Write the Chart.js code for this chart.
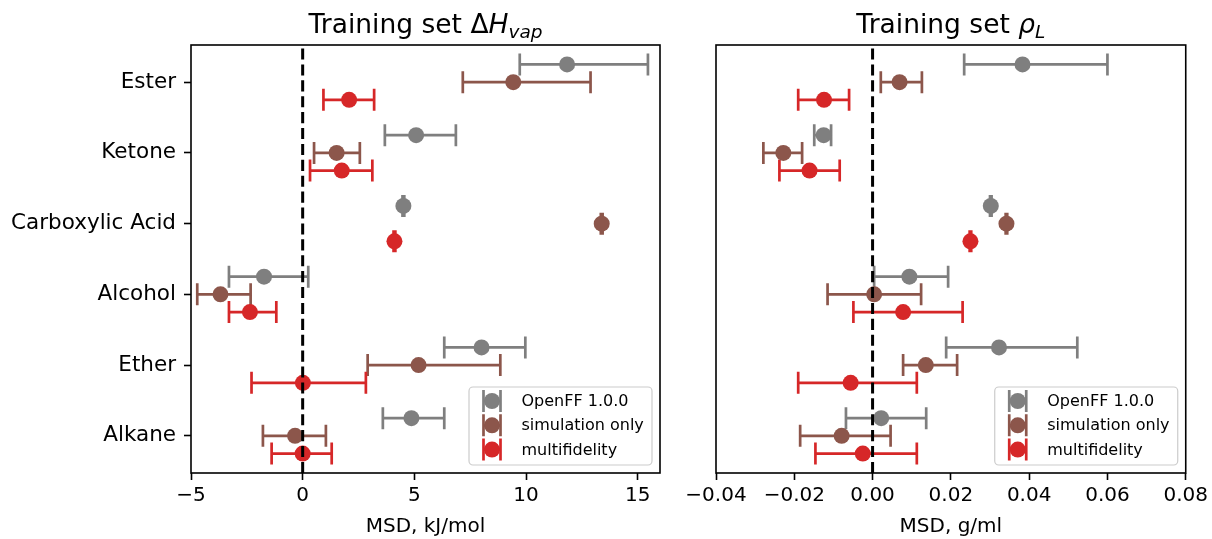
<!DOCTYPE html>
<html>
<head>
<meta charset="utf-8">
<script src="https://cdn.jsdelivr.net/npm/chart.js@4/dist/chart.umd.min.js"></script>
<style>
  html, body { margin: 0; padding: 0; background: #fff; }
  #wrap { position: relative; width: 1212px; height: 539px; overflow: hidden; }
  canvas { position: absolute; top: 0; }
  #c1 { left: 0; }
  #c2 { left: 680px; }
</style>
</head>
<body>
<div id="wrap">
  <canvas id="c1" width="680" height="539"></canvas>
  <canvas id="c2" width="532" height="539"></canvas>
</div>
<script>
// ---------- data (top to bottom order) ----------
const categories = ['Ester', 'Ketone', 'Carboxylic Acid', 'Alcohol', 'Ether', 'Alkane'];
const seriesNames = ['OpenFF 1.0.0', 'simulation only', 'multifidelity'];
const seriesColors = ['#7f7f7f', '#8c564b', '#d62728'];

// Heat of vaporization MSD (kJ/mol)
const hvapOpenFF   = [11.84, 5.08, 4.51, -1.73, 8.01, 4.87];
const hvapOpenFFLo = [9.72, 3.68, 4.47, -3.30, 6.34, 3.59];
const hvapOpenFFHi = [15.46, 6.86, 4.55, 0.25, 9.97, 6.34];
const hvapSim      = [9.43, 1.52, 13.39, -3.68, 5.19, -0.34];
const hvapSimLo    = [7.17, 0.51, 13.35, -4.72, 2.91, -1.78];
const hvapSimHi    = [12.89, 2.56, 13.43, -2.33, 8.85, 1.04];
const hvapMulti    = [2.08, 1.75, 4.11, -2.36, 0.01, 0.0];
const hvapMultiLo  = [0.93, 0.33, 4.07, -3.30, -2.29, -1.39];
const hvapMultiHi  = [3.20, 3.12, 4.15, -1.18, 2.83, 1.30];

// Liquid density MSD (g/ml)
const rhoOpenFF   = [0.0383, -0.0125, 0.0302, 0.0094, 0.0323, 0.0022];
const rhoOpenFFLo = [0.0234, -0.0149, 0.0300, 0.0004, 0.0188, -0.0068];
const rhoOpenFFHi = [0.0600, -0.0106, 0.0304, 0.0193, 0.0523, 0.0137];
const rhoSim      = [0.0069, -0.0228, 0.0342, 0.0004, 0.0136, -0.0079];
const rhoSimLo    = [0.0021, -0.0279, 0.0340, -0.0115, 0.0078, -0.0185];
const rhoSimHi    = [0.0126, -0.0180, 0.0344, 0.0124, 0.0216, 0.0046];
const rhoMulti    = [-0.0124, -0.0161, 0.0250, 0.0078, -0.0056, -0.0025];
const rhoMultiLo  = [-0.0190, -0.0238, 0.0248, -0.0049, -0.0190, -0.0146];
const rhoMultiHi  = [-0.0060, -0.0084, 0.0252, 0.0230, 0.0113, 0.0113];

const hvapTicks = [-5, 0, 5, 10, 15];
const hvapTickLabels = ['\u22125', '0', '5', '10', '15'];
const rhoTicks = [-0.04, -0.02, 0.00, 0.02, 0.04, 0.06, 0.08];
const rhoTickLabels = ['\u22120.04', '\u22120.02', '0.00', '0.02', '0.04', '0.06', '0.08'];
const seriesOffsets = [0.25, 0, -0.25];

// ---------- helpers ----------
Chart.defaults.font.family = "'DejaVu Sans', sans-serif";
Chart.defaults.color = '#000';

const nCat = categories.length;
function catY(i) { return nCat - 1 - i; }

function makeDataset(k, vals, lo, hi) {
  return {
    label: seriesNames[k],
    data: vals.map((v, i) => ({ x: v, y: catY(i) + seriesOffsets[k] })),
    errLo: lo, errHi: hi,
    backgroundColor: seriesColors[k],
    borderWidth: 0,
    pointRadius: 8,
    pointHoverRadius: 8,
    pointStyle: 'circle'
  };
}

const errorBarPlugin = {
  id: 'errorBars',
  beforeDatasetsDraw(chart) {
    const ctx = chart.ctx;
    const xs = chart.scales.x, ys = chart.scales.y;
    ctx.save();
    chart.data.datasets.forEach(ds => {
      ctx.strokeStyle = ds.backgroundColor;
      ctx.lineWidth = 2.7;
      ds.data.forEach((p, i) => {
        const y = ys.getPixelForValue(p.y);
        const x1 = xs.getPixelForValue(ds.errLo[i]);
        const x2 = xs.getPixelForValue(ds.errHi[i]);
        ctx.beginPath();
        ctx.moveTo(x1, y); ctx.lineTo(x2, y);
        ctx.moveTo(x1, y - 11); ctx.lineTo(x1, y + 11);
        ctx.moveTo(x2, y - 11); ctx.lineTo(x2, y + 11);
        ctx.stroke();
      });
    });
    ctx.restore();
  },
  afterDatasetsDraw(chart) {
    const ctx = chart.ctx, ca = chart.chartArea;
    const x0 = chart.scales.x.getPixelForValue(0);
    ctx.save();
    ctx.strokeStyle = '#000';
    ctx.lineWidth = 3;
    ctx.setLineDash([11.1, 4.8]);
    ctx.beginPath();
    ctx.moveTo(x0, ca.bottom); ctx.lineTo(x0, ca.top);
    ctx.stroke();
    ctx.restore();
  },
  afterDraw(chart) {
    const ctx = chart.ctx, ca = chart.chartArea;
    ctx.save();
    // frame
    ctx.strokeStyle = '#000';
    ctx.lineWidth = 1.6;
    ctx.strokeRect(ca.left, ca.top, ca.right - ca.left, ca.bottom - ca.top);
    // legend
    const bw = 183, bh = 78;
    const bx = ca.right - 8 - bw, by = ca.bottom - 8 - bh;
    ctx.fillStyle = 'rgba(255,255,255,0.8)';
    ctx.strokeStyle = '#cccccc';
    ctx.lineWidth = 1.2;
    ctx.beginPath();
    ctx.roundRect(bx, by, bw, bh, 4);
    ctx.fill(); ctx.stroke();
    ctx.font = "16px 'DejaVu Sans'";
    ctx.textBaseline = 'middle';
    ctx.textAlign = 'left';
    const rows = [14, 38.3, 62.6];
    seriesNames.forEach((name, k) => {
      const cy = by + rows[k];
      const mx = bx + 23;
      ctx.strokeStyle = seriesColors[k];
      ctx.lineWidth = 2.7;
      ctx.beginPath();
      ctx.moveTo(mx - 8.5, cy); ctx.lineTo(mx + 8.5, cy);
      ctx.moveTo(mx - 8.5, cy - 11); ctx.lineTo(mx - 8.5, cy + 11);
      ctx.moveTo(mx + 8.5, cy - 11); ctx.lineTo(mx + 8.5, cy + 11);
      ctx.stroke();
      ctx.fillStyle = seriesColors[k];
      ctx.beginPath();
      ctx.arc(mx, cy, 8, 0, Math.PI * 2);
      ctx.fill();
      ctx.fillStyle = '#000';
      ctx.fillText(name, bx + 52.5, cy + 1);
    });
    // title
    const t = chart.options.plugins.customTitle;
    const cx = (ca.left + ca.right) / 2;
    const base = 33;
    const parts = [
      { text: t.main, font: "26.5px 'DejaVu Sans'", dy: 0 },
      { text: t.sym, font: "italic 26.5px 'DejaVu Sans'", dy: 0 },
      { text: t.sub, font: "italic 18.5px 'DejaVu Sans'", dy: 5 }
    ];
    let total = 0;
    parts.forEach(p => { ctx.font = p.font; p.w = ctx.measureText(p.text).width; total += p.w; });
    let x = cx - total / 2;
    ctx.fillStyle = '#000';
    ctx.textBaseline = 'alphabetic';
    parts.forEach(p => { ctx.font = p.font; ctx.fillText(p.text, x, base + p.dy); x += p.w; });
    ctx.restore();
  }
};

function makeChart(canvasId, opts) {
  return new Chart(document.getElementById(canvasId), {
    type: 'scatter',
    data: { datasets: opts.datasets },
    options: {
      responsive: false,
      animation: false,
      devicePixelRatio: 1,
      events: [],
      layout: { padding: { top: 45, right: opts.padRight, bottom: 0, left: 0 } },
      plugins: {
        legend: { display: false },
        tooltip: { enabled: false },
        customTitle: opts.title
      },
      scales: {
        x: {
          type: 'linear',
          min: opts.xmin, max: opts.xmax,
          afterBuildTicks: s => { s.ticks = opts.ticks.map(v => ({ value: v })); },
          afterFit: s => { s.height = 66; },
          ticks: {
            font: { size: 20 },
            padding: 4,
            maxRotation: 0,
            callback: (v) => { const i = opts.ticks.findIndex(t => Math.abs(t - v) < 1e-9); return i >= 0 ? opts.tickLabels[i] : ''; }
          },
          grid: { display: true, drawOnChartArea: false, drawTicks: true, tickLength: 7, tickColor: '#000', tickWidth: 1.6 },
          border: { display: false },
          title: { display: true, text: opts.xlabel, font: { size: 20 }, padding: { top: 0, bottom: 0 } }
        },
        y: {
          type: 'linear',
          min: -0.525, max: 5.525,
          afterBuildTicks: s => { s.ticks = categories.map((c, i) => ({ value: catY(i) })); },
          afterFit: s => { s.width = opts.yWidth; },
          ticks: {
            display: opts.showY,
            font: { size: 21.5 },
            padding: 8,
            callback: (v) => { const i = nCat - 1 - Math.round(v); return categories[i]; }
          },
          grid: { display: opts.showY, drawOnChartArea: false, drawTicks: true, tickLength: 7, tickColor: '#000', tickWidth: 1.6 },
          border: { display: false }
        }
      }
    },
    plugins: [errorBarPlugin]
  });
}

makeChart('c1', {
  datasets: [
    makeDataset(0, hvapOpenFF, hvapOpenFFLo, hvapOpenFFHi),
    makeDataset(1, hvapSim, hvapSimLo, hvapSimHi),
    makeDataset(2, hvapMulti, hvapMultiLo, hvapMultiHi)
  ],
  xmin: -5, xmax: 16,
  ticks: hvapTicks, tickLabels: hvapTickLabels,
  xlabel: 'MSD, kJ/mol',
  yWidth: 191, showY: true, padRight: 20,
  title: { main: 'Training set \u0394', sym: 'H', sub: 'vap' }
});

makeChart('c2', {
  datasets: [
    makeDataset(0, rhoOpenFF, rhoOpenFFLo, rhoOpenFFHi),
    makeDataset(1, rhoSim, rhoSimLo, rhoSimHi),
    makeDataset(2, rhoMulti, rhoMultiLo, rhoMultiHi)
  ],
  xmin: -0.04, xmax: 0.08,
  ticks: rhoTicks, tickLabels: rhoTickLabels,
  xlabel: 'MSD, g/ml',
  yWidth: 36, showY: false, padRight: 26,
  title: { main: 'Training set ', sym: '\u03C1', sub: 'L' }
});
</script>
</body>
</html>
